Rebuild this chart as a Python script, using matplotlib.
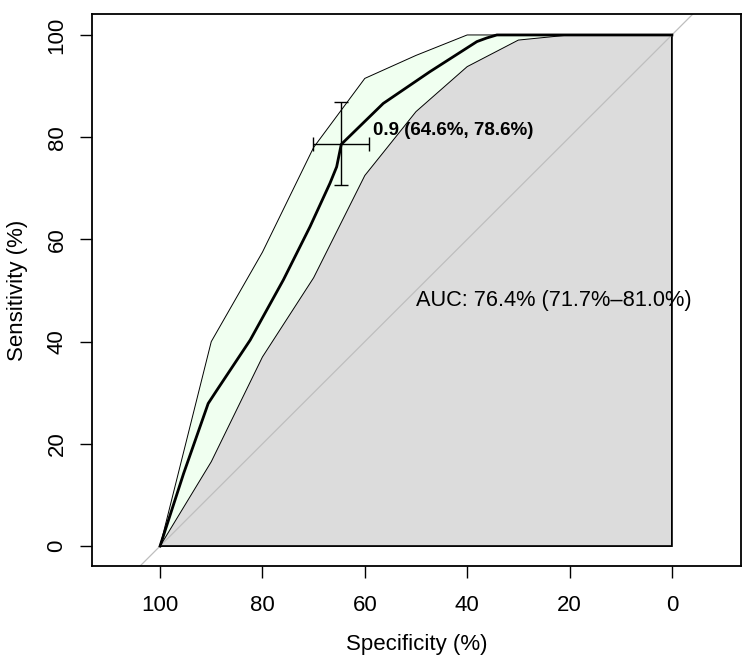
import matplotlib
matplotlib.use('Agg')
import matplotlib.pyplot as plt
import numpy as np

# --- データ ---------------------------------------------
# ROC曲線 (特異度, 感度) [%]
roc_spec = [100, 95.4, 90.6, 88.9, 82.4, 75.9, 70.7, 66.8, 65.5, 64.6, 56.4, 47.3, 38.1, 36.2, 34.2, 0]
roc_sens = [0, 14.2, 27.9, 30.5, 40.3, 52.1, 62.5, 71.0, 74.2, 78.6, 86.6, 92.8, 98.7, 99.4, 100, 100]

# 感度の信頼区間 (特異度グリッド)
ci_spec = [100, 90, 80, 70, 60, 50, 40, 30, 20, 10, 0]
ci_upper = [0, 40, 57.5, 78, 91.5, 96, 100, 100, 100, 100, 100]
ci_lower = [0, 16.5, 37, 52.5, 72.5, 85, 93.8, 99, 100, 100, 100]

# 閾値
thres = 0.9
thres_spec, thres_sens = 64.6, 78.6
thres_spec_ci = [70.1, 59.0]
thres_sens_ci = [70.6, 86.9]

auc_text = 'AUC: 76.4% (71.7%\u201381.0%)'

# --- 描画 -----------------------------------------------
plt.rcParams['font.family'] = ['Liberation Sans', 'DejaVu Sans']

fig = plt.figure(figsize=(7.5, 6.59), dpi=100)
ax = fig.add_axes([92 / 750, 1 - 566 / 659, (741 - 92) / 750, (566 - 14) / 659])

# AUCポリゴン (灰色)
poly_x = list(roc_spec) + [0]
poly_y = list(roc_sens) + [0]
ax.fill(poly_x, poly_y, facecolor='#dcdcdc', edgecolor='black', linewidth=1.3, zorder=1)

# 対角線
ax.plot([110, -10], [-10, 110], color='#bebebe', linewidth=0.9, zorder=2)

# 信頼区間 (薄緑)
ax.fill_between(ci_spec, ci_lower, ci_upper, facecolor='#f0fff0', edgecolor='none', zorder=3)
ax.plot(ci_spec, ci_upper, color='black', linewidth=0.7, zorder=4)
ax.plot(ci_spec, ci_lower, color='black', linewidth=0.7, zorder=4)

# ROC曲線
ax.plot(roc_spec, roc_sens, color='black', linewidth=2.0, zorder=5)

# 閾値のエラーバー
ax.errorbar(thres_spec, thres_sens,
            xerr=[[thres_spec_ci[0] - thres_spec], [thres_spec - thres_spec_ci[1]]],
            yerr=[[thres_sens - thres_sens_ci[0]], [thres_sens_ci[1] - thres_sens]],
            fmt='none', ecolor='black', elinewidth=1.0, capsize=5, capthick=1.0, zorder=6)
ax.text(58.4, 81.4, f'{thres} ({thres_spec}%, {thres_sens}%)', fontsize=13.5,
        fontweight='bold', ha='left', va='center', zorder=7)

ax.text(50, 48.1, auc_text, fontsize=15.7, ha='left', va='center', zorder=7)

# 軸
ax.set_xlim(113.3, -13.5)
ax.set_ylim(-3.9, 104.1)
ax.set_xticks([100, 80, 60, 40, 20, 0])
ax.set_yticks([0, 20, 40, 60, 80, 100])
ax.tick_params(axis='both', direction='out', length=8.6, width=1.0, labelsize=16)
ax.tick_params(axis='x', pad=12.5)
ax.tick_params(axis='y', pad=9)
plt.setp(ax.get_yticklabels(), rotation=90, va='center')
for s in ax.spines.values():
    s.set_linewidth(1.3)
ax.set_xlabel('Specificity (%)', fontsize=16, labelpad=13)
ax.set_ylabel('Sensitivity (%)', fontsize=16, labelpad=13)

fig.savefig('out.png', dpi=100)
